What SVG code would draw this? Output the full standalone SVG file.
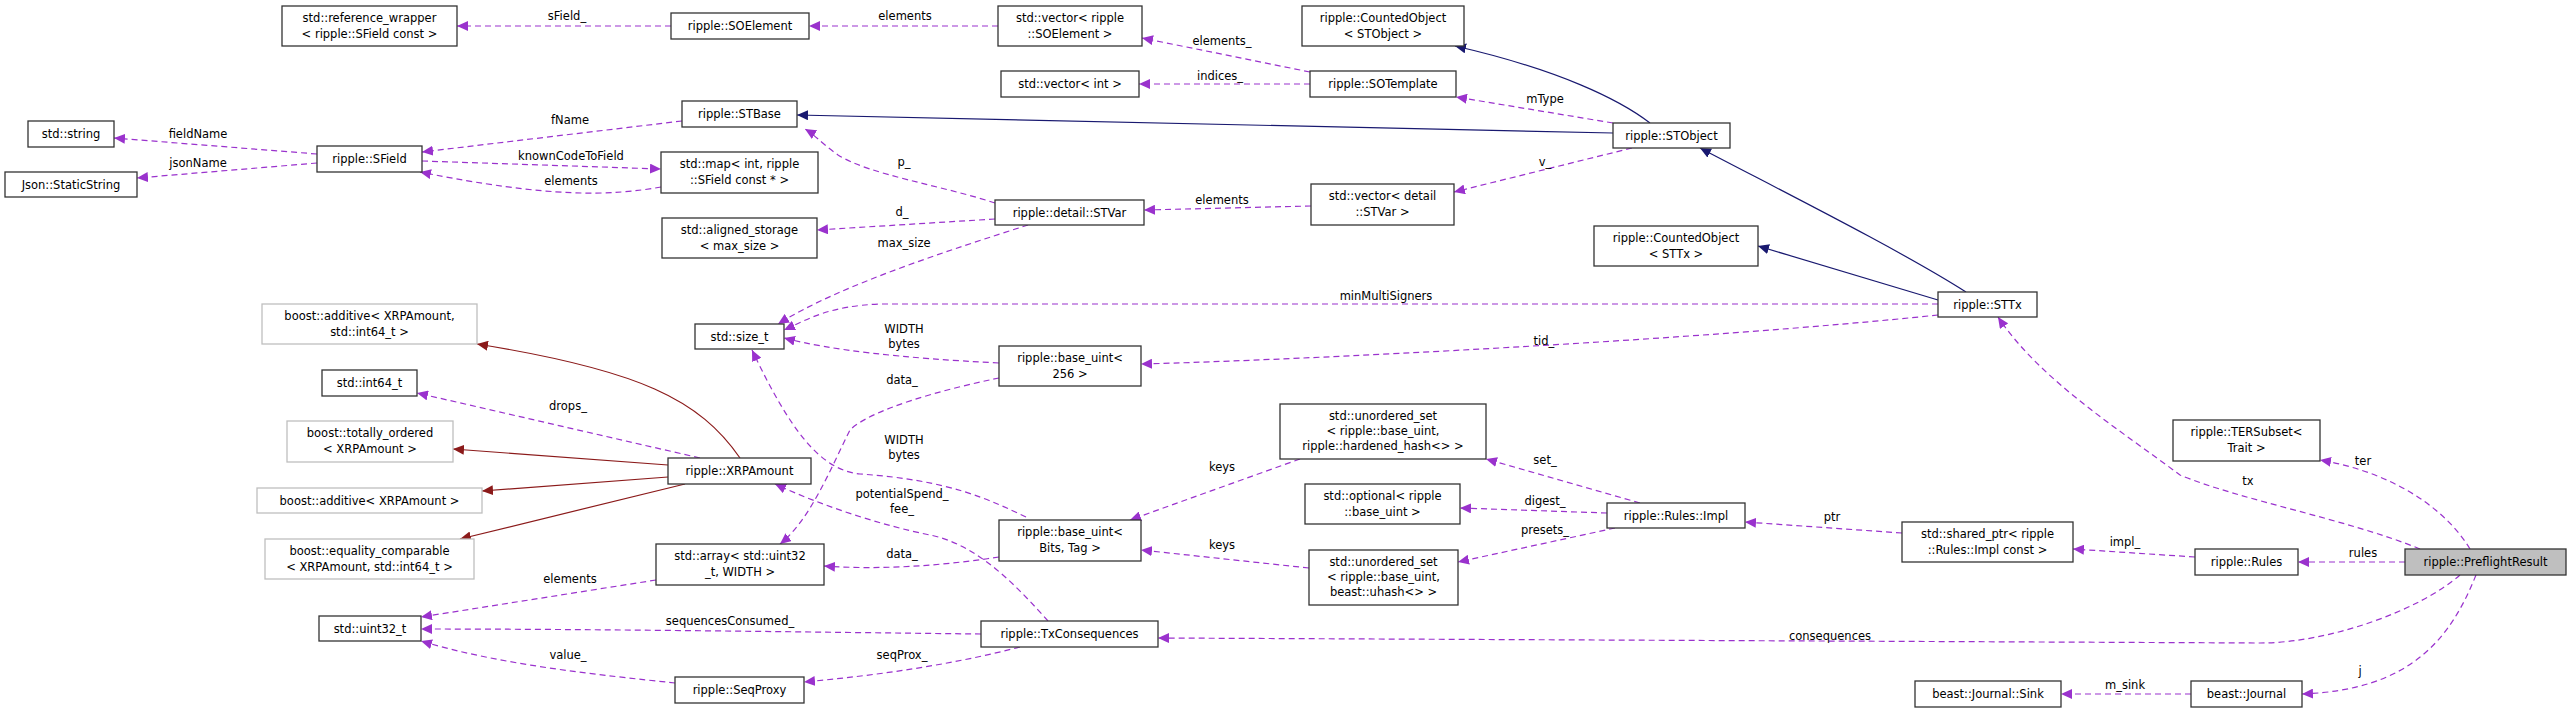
<svg xmlns="http://www.w3.org/2000/svg" width="2572" height="713" viewBox="0 0 2572 713">
<style>
text{font-family:"DejaVu Sans","Liberation Sans",sans-serif;font-size:11.5px;fill:#000;text-anchor:middle}
.n rect{fill:#fff;stroke:#333;stroke-width:1.3}
.g rect{fill:#fff;stroke:#bfbfbf;stroke-width:1.3}
.m rect{fill:#bfbfbf;stroke:#333;stroke-width:1.3}
.p{fill:none;stroke:#9a32cd;stroke-width:1.2;stroke-dasharray:6,4;marker-end:url(#ap)}
.b{fill:none;stroke:#191970;stroke-width:1.2;marker-end:url(#ab)}
.r{fill:none;stroke:#8b1a1a;stroke-width:1.2;marker-end:url(#ar)}
</style>
<defs>
<marker id="ap" markerWidth="12" markerHeight="10" refX="11" refY="5" orient="auto" markerUnits="userSpaceOnUse"><path d="M0,0L11,5L0,10z" fill="#9a32cd"/></marker>
<marker id="ab" markerWidth="12" markerHeight="10" refX="11" refY="5" orient="auto" markerUnits="userSpaceOnUse"><path d="M0,0L11,5L0,10z" fill="#191970"/></marker>
<marker id="ar" markerWidth="12" markerHeight="10" refX="11" refY="5" orient="auto" markerUnits="userSpaceOnUse"><path d="M0,0L11,5L0,10z" fill="#8b1a1a"/></marker>
</defs>
<rect width="2572" height="713" fill="#fff"/>
<g id="edges">
<path class="p" d="M671,26L457,26"/><text x="567" y="20">sField_</text>
<path class="p" d="M998,26L809,26"/><text x="905" y="20">elements</text>
<path class="p" d="M1310,72L1142,38"/><text x="1222" y="45">elements_</text>
<path class="p" d="M1310,84L1139,84"/><text x="1220" y="80">indices_</text>
<path class="b" d="M1650,123C1620,100 1560,70 1455,46"/>
<path class="b" d="M1613,133L797,115"/>
<path class="p" d="M1613,123L1456,97"/><text x="1545" y="103">mType</text>
<path class="p" d="M1632,148L1454,192"/><text x="1545" y="166">v_</text>
<path class="p" d="M1311,206L1144,210"/><text x="1222" y="204">elements</text>
<path class="p" d="M995,203C940,185 870,175 838,155C820,142 815,135 805,129"/><text x="904" y="166">p_</text>
<path class="p" d="M995,219L817,230"/><text x="902" y="216">d_</text>
<path class="p" d="M1028,225C950,250 840,285 778,324"/><text x="904" y="247">max_size</text>
<path class="p" d="M682,121L422,152"/><text x="570" y="124">fName</text>
<path class="p" d="M317,154L114,138"/><text x="198" y="138">fieldName</text>
<path class="p" d="M317,163L137,178"/><text x="198" y="167">jsonName</text>
<path class="p" d="M422,161L661,169"/><text x="571" y="160">knownCodeToField</text>
<path class="p" d="M661,187C610,196 550,198 420,172"/><text x="571" y="185">elements</text>
<path class="b" d="M1966,292C1900,250 1780,190 1700,148"/>
<path class="b" d="M1938,300L1758,246"/>
<path class="p" d="M1938,304L880,304C830,306 810,318 784,330"/><text x="1386" y="300">minMultiSigners</text>
<path class="p" d="M1938,315C1700,340 1300,360 1141,364"/><text x="1544" y="345">tid_</text>
<path class="p" d="M999,363C900,358 830,350 784,338"/><text x="904" y="333">WIDTH</text><text x="904" y="348">bytes</text>
<path class="p" d="M999,378C940,390 870,410 850,430C830,470 810,520 780,544"/><text x="902" y="384">data_</text>
<path class="p" d="M1026,517C990,500 950,480 860,474C820,470 790,430 752,350"/><text x="904" y="444">WIDTH</text><text x="904" y="459">bytes</text>
<path class="p" d="M999,557C940,566 880,570 824,566"/><text x="902" y="558">data_</text>
<path class="p" d="M1048,621C1020,590 980,545 930,535C880,525 820,505 775,484"/><text x="902" y="498">potentialSpend_</text><text x="902" y="513">fee_</text>
<path class="p" d="M981,634C800,632 600,629 421,629"/><text x="730" y="625">sequencesConsumed_</text>
<path class="p" d="M1020,647C950,665 880,675 804,682"/><text x="902" y="659">seqProx_</text>
<path class="p" d="M675,683C600,675 500,665 421,641"/><text x="568" y="659">value_</text>
<path class="p" d="M656,580L421,617"/><text x="570" y="583">elements</text>
<path class="p" d="M700,458L417,393"/><text x="568" y="410">drops_</text>
<path class="r" d="M740,458C700,400 640,370 477,344"/>
<path class="r" d="M668,465L453,449"/>
<path class="r" d="M668,477L482,491"/>
<path class="r" d="M685,484L460,539"/>
<path class="p" d="M1640,503L1486,459"/><text x="1545" y="464">set_</text>
<path class="p" d="M1607,513L1460,508"/><text x="1545" y="505">digest_</text>
<path class="p" d="M1615,528L1458,562"/><text x="1545" y="534">presets_</text>
<path class="p" d="M1300,459L1130,520"/><text x="1222" y="471">keys</text>
<path class="p" d="M1309,568L1141,550"/><text x="1222" y="549">keys</text>
<path class="p" d="M1902,533L1745,522"/><text x="1832" y="521">ptr</text>
<path class="p" d="M2195,557L2073,549"/><text x="2125" y="546">impl_</text>
<path class="p" d="M2405,562L2298,562"/><text x="2363" y="557">rules</text>
<path class="p" d="M2420,549C2350,520 2240,500 2180,475C2120,430 2040,380 1998,317"/><text x="2248" y="485">tx</text>
<path class="p" d="M2470,549C2440,500 2380,470 2320,460"/><text x="2363" y="465">ter</text>
<path class="p" d="M2460,575C2420,610 2330,643 2260,643L1158,638"/><text x="1830" y="640">consequences</text>
<path class="p" d="M2476,575C2450,640 2410,690 2302,694"/><text x="2360" y="675">j</text>
<path class="p" d="M2191,694L2061,694"/><text x="2125" y="689">m_sink</text>
</g>
<g id="n_refwrap" class="n"><rect x="282" y="6" width="175" height="40"/><text x="369.5" y="22">std::reference_wrapper</text><text x="369.5" y="38">&lt; ripple::SField const &gt;</text></g>
<g id="n_soelement" class="n"><rect x="671" y="13" width="138" height="26"/><text x="740" y="30">ripple::SOElement</text></g>
<g id="n_vecsoel" class="n"><rect x="998" y="6" width="144" height="40"/><text x="1070" y="22">std::vector&lt; ripple</text><text x="1070" y="38">::SOElement &gt;</text></g>
<g id="n_cntobj" class="n"><rect x="1302" y="6" width="162" height="40"/><text x="1383" y="22">ripple::CountedObject</text><text x="1383" y="38">&lt; STObject &gt;</text></g>
<g id="n_vecint" class="n"><rect x="1001" y="71" width="138" height="26"/><text x="1070" y="88">std::vector&lt; int &gt;</text></g>
<g id="n_sotemplate" class="n"><rect x="1310" y="71" width="146" height="26"/><text x="1383" y="88">ripple::SOTemplate</text></g>
<g id="n_stbase" class="n"><rect x="682" y="101" width="115" height="26"/><text x="739.5" y="118">ripple::STBase</text></g>
<g id="n_stobject" class="n"><rect x="1613" y="123" width="117" height="25"/><text x="1671.5" y="140">ripple::STObject</text></g>
<g id="n_string" class="n"><rect x="28" y="121" width="86" height="26"/><text x="71" y="138">std::string</text></g>
<g id="n_sfield" class="n"><rect x="317" y="146" width="105" height="26"/><text x="369.5" y="163">ripple::SField</text></g>
<g id="n_json" class="n"><rect x="5" y="172" width="132" height="25"/><text x="71" y="189">Json::StaticString</text></g>
<g id="n_map" class="n"><rect x="661" y="152" width="157" height="41"/><text x="739.5" y="168">std::map&lt; int, ripple</text><text x="739.5" y="184">::SField const * &gt;</text></g>
<g id="n_stvar" class="n"><rect x="995" y="200" width="149" height="25"/><text x="1069.5" y="217">ripple::detail::STVar</text></g>
<g id="n_vecstvar" class="n"><rect x="1311" y="184" width="143" height="41"/><text x="1382.5" y="200">std::vector&lt; detail</text><text x="1382.5" y="216">::STVar &gt;</text></g>
<g id="n_aligned" class="n"><rect x="662" y="218" width="155" height="40"/><text x="739.5" y="234">std::aligned_storage</text><text x="739.5" y="250">&lt; max_size &gt;</text></g>
<g id="n_cntsttx" class="n"><rect x="1594" y="226" width="164" height="40"/><text x="1676" y="242">ripple::CountedObject</text><text x="1676" y="258">&lt; STTx &gt;</text></g>
<g id="n_sttx" class="n"><rect x="1938" y="292" width="99" height="25"/><text x="1987.5" y="309">ripple::STTx</text></g>
<g id="n_addxi" class="g"><rect x="262" y="304" width="215" height="40"/><text x="369.5" y="320">boost::additive&lt; XRPAmount,</text><text x="369.5" y="336">std::int64_t &gt;</text></g>
<g id="n_sizet" class="n"><rect x="695" y="324" width="89" height="25"/><text x="739.5" y="341">std::size_t</text></g>
<g id="n_bu256" class="n"><rect x="999" y="346" width="142" height="40"/><text x="1070" y="362">ripple::base_uint&lt;</text><text x="1070" y="378">256 &gt;</text></g>
<g id="n_int64" class="n"><rect x="322" y="370" width="95" height="26"/><text x="369.5" y="387">std::int64_t</text></g>
<g id="n_usethard" class="n"><rect x="1280" y="404" width="206" height="55"/><text x="1383" y="420">std::unordered_set</text><text x="1383" y="435">&lt; ripple::base_uint,</text><text x="1383" y="450">ripple::hardened_hash&lt;&gt; &gt;</text></g>
<g id="n_totord" class="g"><rect x="287" y="421" width="166" height="41"/><text x="370" y="437">boost::totally_ordered</text><text x="370" y="453">&lt; XRPAmount &gt;</text></g>
<g id="n_tersub" class="n"><rect x="2173" y="420" width="147" height="41"/><text x="2246.5" y="436">ripple::TERSubset&lt;</text><text x="2246.5" y="452">Trait &gt;</text></g>
<g id="n_xrp" class="n"><rect x="668" y="458" width="143" height="26"/><text x="739.5" y="475">ripple::XRPAmount</text></g>
<g id="n_optional" class="n"><rect x="1305" y="484" width="155" height="40"/><text x="1382.5" y="500">std::optional&lt; ripple</text><text x="1382.5" y="516">::base_uint &gt;</text></g>
<g id="n_addx" class="g"><rect x="257" y="488" width="225" height="25"/><text x="369.5" y="505">boost::additive&lt; XRPAmount &gt;</text></g>
<g id="n_rulesimpl" class="n"><rect x="1607" y="503" width="138" height="25"/><text x="1676" y="520">ripple::Rules::Impl</text></g>
<g id="n_bubits" class="n"><rect x="999" y="520" width="142" height="41"/><text x="1070" y="536">ripple::base_uint&lt;</text><text x="1070" y="552">Bits, Tag &gt;</text></g>
<g id="n_shptr" class="n"><rect x="1902" y="522" width="171" height="40"/><text x="1987.5" y="538">std::shared_ptr&lt; ripple</text><text x="1987.5" y="554">::Rules::Impl const &gt;</text></g>
<g id="n_eqcmp" class="g"><rect x="265" y="539" width="209" height="40"/><text x="369.5" y="555">boost::equality_comparable</text><text x="369.5" y="571">&lt; XRPAmount, std::int64_t &gt;</text></g>
<g id="n_array" class="n"><rect x="656" y="544" width="168" height="41"/><text x="740" y="560">std::array&lt; std::uint32</text><text x="740" y="576">_t, WIDTH &gt;</text></g>
<g id="n_rules" class="n"><rect x="2195" y="549" width="103" height="26"/><text x="2246.5" y="566">ripple::Rules</text></g>
<g id="n_preflight" class="m"><rect x="2405" y="549" width="161" height="26"/><text x="2485.5" y="566">ripple::PreflightResult</text></g>
<g id="n_usetuhash" class="n"><rect x="1309" y="550" width="149" height="55"/><text x="1383.5" y="566">std::unordered_set</text><text x="1383.5" y="581">&lt; ripple::base_uint,</text><text x="1383.5" y="596">beast::uhash&lt;&gt; &gt;</text></g>
<g id="n_uint32" class="n"><rect x="319" y="616" width="102" height="25"/><text x="370" y="633">std::uint32_t</text></g>
<g id="n_txcons" class="n"><rect x="981" y="621" width="177" height="26"/><text x="1069.5" y="638">ripple::TxConsequences</text></g>
<g id="n_seqproxy" class="n"><rect x="675" y="677" width="129" height="26"/><text x="739.5" y="694">ripple::SeqProxy</text></g>
<g id="n_sink" class="n"><rect x="1915" y="681" width="146" height="26"/><text x="1988" y="698">beast::Journal::Sink</text></g>
<g id="n_journal" class="n"><rect x="2191" y="681" width="111" height="26"/><text x="2246.5" y="698">beast::Journal</text></g>
</svg>
